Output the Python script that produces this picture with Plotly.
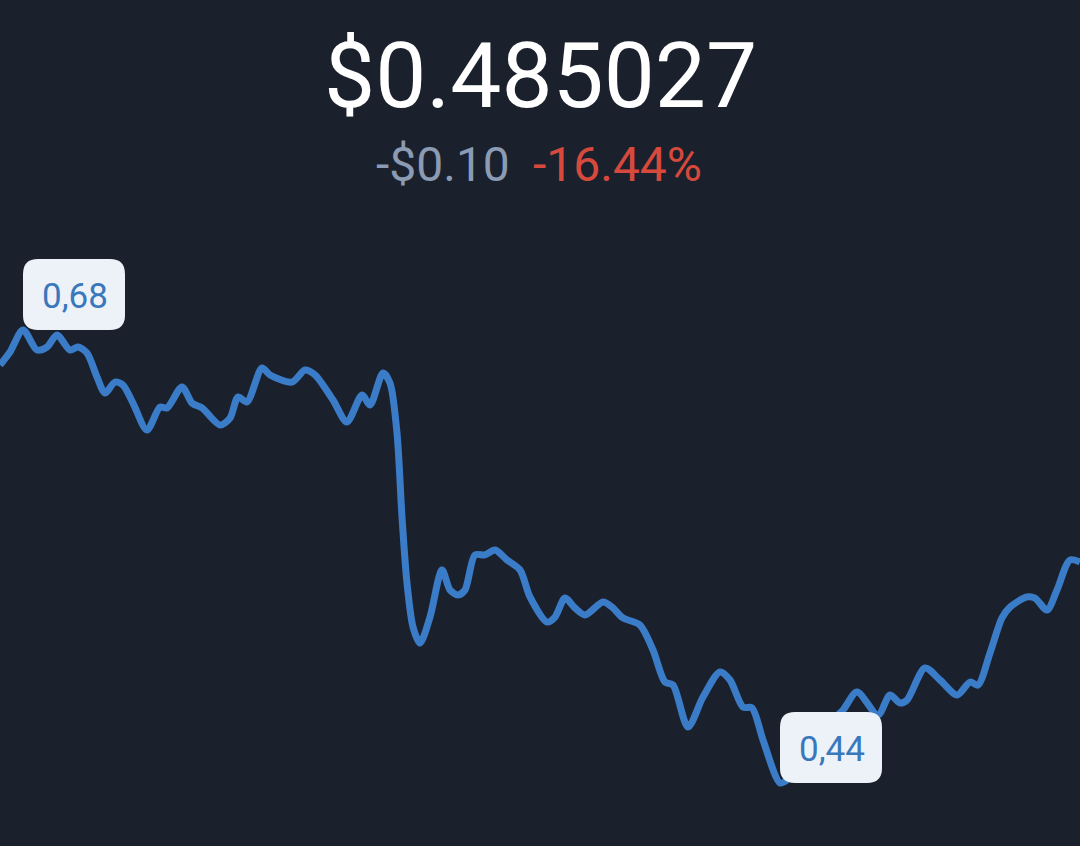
import plotly.graph_objects as go

# time index (sample positions) and price values
t = [0, 10, 23, 37, 47, 57, 70, 78, 87, 97, 105, 115, 123, 133, 147, 160, 167, 182, 192, 202,
     220, 230, 238, 247, 262, 270, 292, 305, 315, 333, 347, 362, 370, 383, 390, 397, 402, 407,
     413, 420, 430, 442, 450, 458, 465, 475, 485, 495, 507, 520, 530, 547, 555, 565, 575, 585,
     603, 612, 623, 640, 653, 665, 673, 688, 703, 720, 730, 743, 752, 763, 780, 787, 800, 815,
     830, 843, 857, 878, 890, 900, 907, 925, 940, 957, 970, 978, 990, 1002, 1010, 1027, 1035,
     1047, 1057, 1070, 1080]
price = [0.6624, 0.6693, 0.6811, 0.6704, 0.6720, 0.6784, 0.6704, 0.6720, 0.6688, 0.6560,
         0.6475, 0.6533, 0.6517, 0.6421, 0.6277, 0.6400, 0.6395, 0.6507, 0.6421, 0.6395,
         0.6304, 0.6341, 0.6453, 0.6427, 0.6608, 0.6571, 0.6533, 0.6597, 0.6571, 0.6437,
         0.6320, 0.6464, 0.6411, 0.6581, 0.6528, 0.6261, 0.5813, 0.5461, 0.5227, 0.5141,
         0.5280, 0.5531, 0.5424, 0.5397, 0.5424, 0.5611, 0.5611, 0.5637, 0.5584, 0.5531,
         0.5387, 0.5253, 0.5280, 0.5381, 0.5328, 0.5291, 0.5360, 0.5333, 0.5275, 0.5237,
         0.5104, 0.4933, 0.4917, 0.4693, 0.4853, 0.4987, 0.4944, 0.4800, 0.4795, 0.4624,
         0.4395, 0.4411, 0.4491, 0.4624, 0.4720, 0.4784, 0.4880, 0.4757, 0.4864, 0.4821,
         0.4837, 0.5008, 0.4944, 0.4864, 0.4933, 0.4917, 0.5088, 0.5275, 0.5333, 0.5387,
         0.5381, 0.5317, 0.5424, 0.5584, 0.5573]

current_price = "$0.485027"
change_abs = "-$0.10"
change_pct = "-16.44%"

BG = "#1b212c"
LINE = "#3a7cc8"
LABEL_BG = "#edf2f8"
LABEL_FG = "#3a78bd"

fig = go.Figure()
fig.add_trace(go.Scatter(
    x=t, y=price, mode="lines",
    line=dict(color=LINE, width=7, shape="spline", smoothing=0.8),
    hoverinfo="skip",
))

i_max = price.index(max(price))
i_min = price.index(min(price))

def rounded_rect(w, h, r):
    return (f"M {r},0 L {w-r},0 Q {w},0 {w},{r} L {w},{h-r} Q {w},{h} {w-r},{h} "
            f"L {r},{h} Q 0,{h} 0,{h-r} L 0,{r} Q 0,0 {r},0 Z")

shapes = []
annotations = []
for i in (i_max, i_min):
    shapes.append(dict(
        type="path", xref="x", yref="y",
        xsizemode="pixel", ysizemode="pixel",
        xanchor=t[i], yanchor=price[i],
        path=rounded_rect(102, 71, 15),
        fillcolor=LABEL_BG, line=dict(width=0), layer="above",
    ))
    annotations.append(dict(
        x=t[i], y=price[i], xref="x", yref="y",
        xshift=52, yshift=33, showarrow=False,
        xanchor="center", yanchor="middle",
        text=f"{price[i]:.2f}".replace(".", ","),
        font=dict(family="Roboto", size=35, color=LABEL_FG),
    ))

annotations.append(dict(
    x=0.5, y=0.910, xref="paper", yref="paper", showarrow=False,
    xanchor="center", yanchor="middle", text=current_price,
    font=dict(family="Roboto", size=91, color="#ffffff"),
))
annotations.append(dict(
    x=512 / 1080, y=0.805, xref="paper", yref="paper", showarrow=False,
    xanchor="right", yanchor="middle", text=change_abs,
    font=dict(family="Roboto", size=48, color="#8b9bb4"),
))
annotations.append(dict(
    x=531 / 1080, y=0.805, xref="paper", yref="paper", showarrow=False,
    xanchor="left", yanchor="middle", text=change_pct,
    font=dict(family="Roboto", size=48, color="#d7493c"),
))

fig.update_layout(
    width=1080, height=846,
    margin=dict(l=0, r=0, t=0, b=0),
    paper_bgcolor=BG, plot_bgcolor=BG,
    showlegend=False,
    xaxis=dict(range=[0, 1080], visible=False, fixedrange=True),
    yaxis=dict(range=[0.40587, 0.85707], visible=False, fixedrange=True),
    shapes=shapes, annotations=annotations,
)

fig.write_html(
    "out.html",
    config={"displayModeBar": False},
    post_script=(
        "document.body.style.margin='0';"
        "document.body.style.padding='0';"
        "document.body.style.background='" + BG + "';"
        "document.documentElement.style.background='" + BG + "';"
    ),
)
